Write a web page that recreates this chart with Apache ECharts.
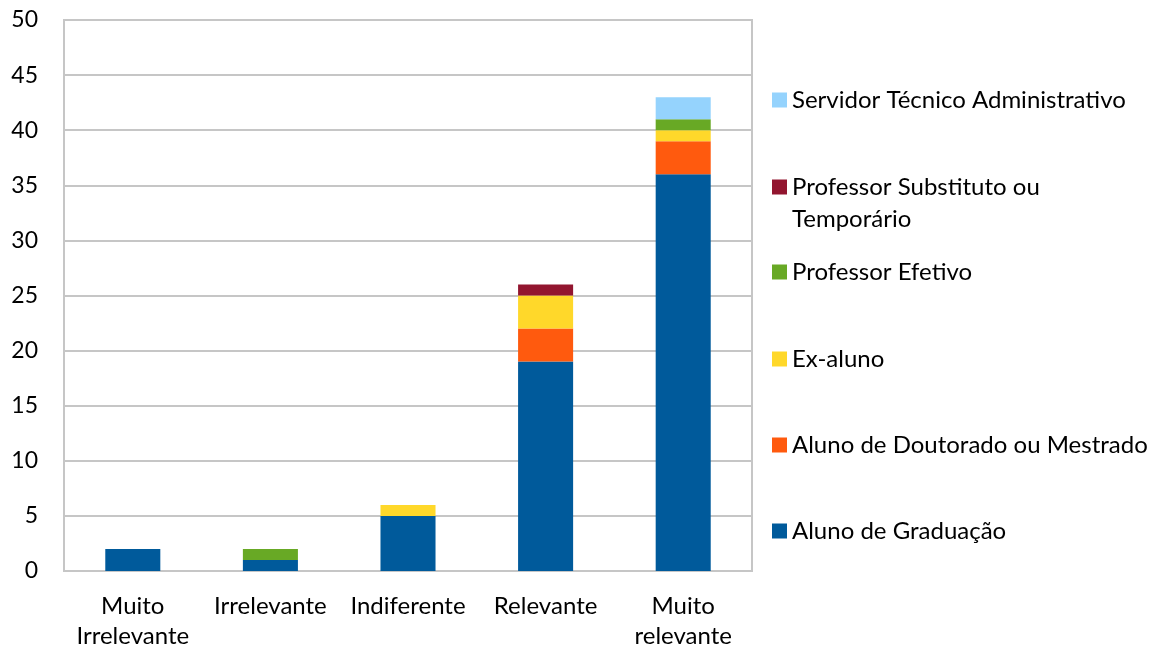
<!DOCTYPE html>
<html>
<head>
<meta charset="utf-8">
<script src="https://cdn.jsdelivr.net/npm/echarts@6/dist/echarts.min.js"></script>
<style>
  html, body { margin: 0; padding: 0; background: #fff; }
  #chart { width: 1168px; height: 651px; }
</style>
</head>
<body>
<div id="chart"></div>
<script>
// Response categories (x axis)
const categories = ['Muito\nIrrelevante', 'Irrelevante', 'Indiferente', 'Relevante', 'Muito\nrelevante'];

// Respondents per group, stacked bottom to top
const alunoGraduacao   = [2, 1, 5, 19, 36];
const alunoDoutorado   = [0, 0, 0, 3, 3];
const exAluno          = [0, 0, 1, 3, 1];
const professorEfetivo = [0, 1, 0, 0, 1];
const professorSubst   = [0, 0, 0, 1, 0];
const servidorTecnico  = [0, 0, 0, 0, 2];

const seriesNames = [
  'Aluno de Graduação',
  'Aluno de Doutorado ou Mestrado',
  'Ex-aluno',
  'Professor Efetivo',
  'Professor Substituto ou\nTemporário',
  'Servidor Técnico Administrativo'
];
const seriesData = [alunoGraduacao, alunoDoutorado, exAluno, professorEfetivo, professorSubst, servidorTecnico];
const seriesColors = ['#005a9b', '#ff5a0e', '#ffd82a', '#68a925', '#92152f', '#95d3fd'];

const FONT = 'Lato';
const chart = echarts.init(document.getElementById('chart'), null, { renderer: 'canvas' });

// One legend per entry so each can sit at its own vertical position
const legendTops = { 0: 515, 1: 429, 2: 343, 3: 256, 4: 139, 5: 84 };
const legends = seriesNames.map((name, i) => ({
  data: [name],
  left: 772,
  top: legendTops[i],
  padding: 0,
  itemWidth: 15,
  itemHeight: 15,
  icon: 'rect',
  selectedMode: false,
  // the two-line entry gets a blank lead line so its first line sits beside the swatch
  formatter: n => (n.indexOf('\n') >= 0 ? ' \n' + n : n),
  textStyle: {
    fontFamily: FONT,
    fontSize: 24,
    color: '#000',
    lineHeight: 32
  }
}));

chart.setOption({
  animation: false,
  backgroundColor: '#fff',
  legend: legends,
  grid: {
    left: 64, right: 416, top: 20, bottom: 80,
    show: true, borderColor: '#c6c6c6', borderWidth: 2
  },
  xAxis: {
    type: 'category',
    data: categories,
    axisLine: { show: true, lineStyle: { color: '#c6c6c6', width: 2 } },
    axisTick: { show: false },
    axisLabel: {
      fontFamily: FONT, fontSize: 24, color: '#000',
      lineHeight: 30, margin: 20, interval: 0
    }
  },
  yAxis: {
    type: 'value',
    min: 0, max: 50, interval: 5,
    axisLine: { show: false },
    axisTick: { show: false },
    splitLine: { lineStyle: { color: '#c6c6c6', width: 2 } },
    axisLabel: { fontFamily: FONT, fontSize: 23, color: '#000', margin: 26 }
  },
  series: seriesNames.map((name, i) => ({
    name: name,
    type: 'bar',
    stack: 'total',
    barWidth: '40%',
    data: seriesData[i],
    itemStyle: { color: seriesColors[i] }
  }))
});
</script>
</body>
</html>
